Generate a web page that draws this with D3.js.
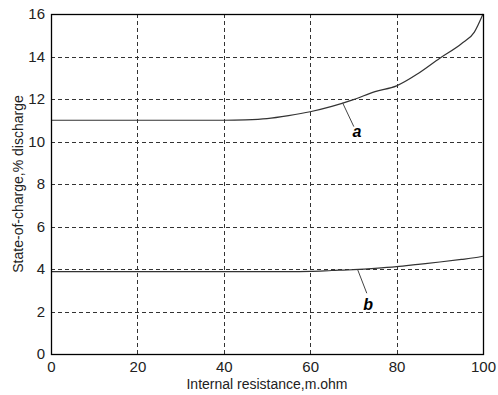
<!DOCTYPE html>
<html>
<head>
<meta charset="utf-8">
<script src="https://cdn.jsdelivr.net/npm/d3@7"></script>
<style>
  body { margin: 0; background: #fff; }
  text { font-family: "Liberation Sans", Arial, sans-serif; fill: #222; }
</style>
</head>
<body>
<script>
// data
const resistance = [0, 10, 20, 30, 40, 45, 50, 55, 60, 65, 70, 75, 80, 85, 90, 95, 98, 100]
const curveA = [11, 11, 11, 11, 11, 11.02, 11.08, 11.22, 11.4, 11.65, 11.97, 12.35, 12.62, 13.2, 13.92, 14.6, 15.15, 16]
const curveB = [3.88, 3.88, 3.88, 3.88, 3.88, 3.88, 3.88, 3.88, 3.89, 3.93, 3.97, 4.03, 4.11, 4.22, 4.33, 4.45, 4.53, 4.6]
const xTicks = [0, 20, 40, 60, 80, 100]
const yTicks = [0, 2, 4, 6, 8, 10, 12, 14, 16]
const labels = [
  { name: "a", from: [67.5, 11.82], to: [70.1, 10.7], at: [70.8, 10.23] },
  { name: "b", from: [71, 3.96], to: [73.1, 2.86], at: [73.4, 2.07] }
]

const w = 498
const h = 395
const padL = 51, padR = 483, padT = 14, padB = 354

const svg = d3.select("body")
  .append("svg")
  .attr("width", w)
  .attr("height", h)

const xScale = d3.scaleLinear().domain([0, 100]).range([padL, padR])
const yScale = d3.scaleLinear().domain([0, 16]).range([padB, padT])

// grid
svg.append("g")
  .selectAll("line")
  .data(xTicks.slice(1, -1))
  .enter()
  .append("line")
  .attr("x1", d => Math.round(xScale(d)) + 0.5)
  .attr("x2", d => Math.round(xScale(d)) + 0.5)
  .attr("y1", padT)
  .attr("y2", padB)
  .attr("stroke", "#333")
  .attr("stroke-dasharray", "4,3")

svg.append("g")
  .selectAll("line")
  .data(yTicks.slice(1, -1))
  .enter()
  .append("line")
  .attr("y1", d => Math.round(yScale(d)) + 0.5)
  .attr("y2", d => Math.round(yScale(d)) + 0.5)
  .attr("x1", padL)
  .attr("x2", padR)
  .attr("stroke", "#333")
  .attr("stroke-dasharray", "4,3")

// axes
const xAxis = d3.axisBottom(xScale).tickValues(xTicks).tickSize(0).tickPadding(7)
svg.append("g")
  .attr("id", "x-axis")
  .attr("transform", "translate(0," + padB + ")")
  .call(xAxis)
  .call(g => g.select(".domain").remove())
  .selectAll("text").style("font-size", "15px")

const yAxis = d3.axisLeft(yScale).tickValues(yTicks).tickSize(0).tickPadding(6)
svg.append("g")
  .attr("id", "y-axis")
  .attr("transform", "translate(" + padL + ",0)")
  .call(yAxis)
  .call(g => g.select(".domain").remove())
  .selectAll("text").style("font-size", "15px")

// curves
const line = d3.line()
  .x((d, i) => xScale(resistance[i]))
  .y(d => yScale(d))
  .curve(d3.curveMonotoneX)

svg.append("path").datum(curveA)
  .attr("d", line).attr("fill", "none").attr("stroke", "#333").attr("stroke-width", 1.2)
svg.append("path").datum(curveB)
  .attr("d", line).attr("fill", "none").attr("stroke", "#333").attr("stroke-width", 1.2)

// box
svg.append("rect")
  .attr("x", padL + 0.5)
  .attr("y", padT + 0.5)
  .attr("width", padR - padL)
  .attr("height", padB - padT)
  .attr("fill", "none")
  .attr("stroke", "#000")
  .attr("stroke-width", 1.3)

// curve labels
labels.forEach(l => {
  svg.append("line")
    .attr("x1", xScale(l.from[0])).attr("y1", yScale(l.from[1]))
    .attr("x2", xScale(l.to[0])).attr("y2", yScale(l.to[1]))
    .attr("stroke", "#444")
  svg.append("text")
    .attr("x", xScale(l.at[0]))
    .attr("y", yScale(l.at[1]))
    .attr("text-anchor", "middle")
    .style("font-size", "16px")
    .style("font-style", "italic")
    .style("font-weight", "bold")
    .style("fill", "#000")
    .text(l.name)
})

// axis titles
svg.append("text")
  .attr("x", (padL + padR) / 2)
  .attr("y", 389)
  .attr("text-anchor", "middle")
  .style("font-size", "14px")
  .text("Internal resistance,m.ohm")

svg.append("text")
  .attr("transform", "translate(23," + (padT + padB) / 2 + ") rotate(-90)")
  .attr("text-anchor", "middle")
  .style("font-size", "14px")
  .text("State-of-charge,% discharge")
</script>
</body>
</html>
